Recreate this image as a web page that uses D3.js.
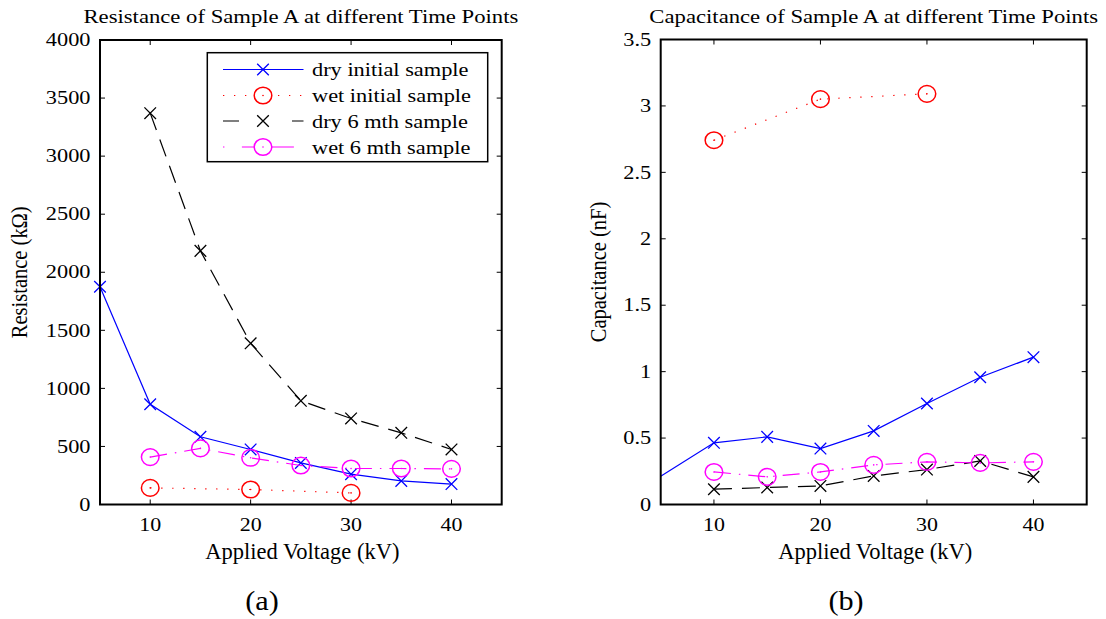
<!DOCTYPE html>
<html><head><meta charset="utf-8">
<script src="https://cdn.jsdelivr.net/npm/d3@7"></script>
<style>body{margin:0;background:#fff}svg{display:block}</style>
</head><body><svg id="c" width="1106" height="619" font-family="'Liberation Serif', 'Times New Roman', Times, serif"></svg>
<script>
// ---- data ----
const voltages = [5, 10, 15, 20, 25, 30, 35, 40];
const wetVoltages = [10, 20, 30];
const v6 = [10, 15, 20, 25, 30, 35, 40];

const resDryInitial = [1875, 863, 583, 474, 358, 261, 203, 176];
const resWetInitial = [143, 129, 100];
const resDry6 = [3370, 2184, 1388, 893, 741, 617, 474];
const resWet6 = [408, 483, 402, 336, 310, 310, 307];

const capDryInitial = [0.213, 0.464, 0.509, 0.421, 0.554, 0.760, 0.958, 1.109];
const capWetInitial = [2.742, 3.051, 3.091];
const capDry6 = [0.115, 0.128, 0.140, 0.215, 0.263, 0.328, 0.208];
const capWet6 = [0.245, 0.208, 0.245, 0.298, 0.321, 0.313, 0.321];

const seriesNames = ["dry initial sample", "wet initial sample", "dry 6 mth sample", "wet 6 mth sample"];
const xTicks = [10, 20, 30, 40];
const resTicks = [0, 500, 1000, 1500, 2000, 2500, 3000, 3500, 4000];
const capTicks = [0, 0.5, 1, 1.5, 2, 2.5, 3, 3.5];
const capTickLabels = ["0", "0.5", "1", "1.5", "2", "2.5", "3", "3.5"];

// ---- styles ----
const styles = [
  {color: "#0000ff", dash: null, legendDash: null, marker: "x"},
  {color: "#ff0000", dash: "1.3,9.7", legendDash: "1.3,9.7", marker: "o"},
  {color: "#000000", dash: "18,10", legendDash: "16,53,12", marker: "x"},
  {color: "#ff00ff", dash: "17,8,1.5,8", legendDash: "1.4,17.5,52,20", marker: "o"}
];

const svg = d3.select("#c");

// text with horizontal stretch (reference glyphs are wider than normal)
function stext(g, x, y, str, size, sx, anchor, rot) {
  const t = g.append("text")
    .attr("transform", `translate(${x},${y}) scale(${sx},1)` + (rot ? ` rotate(${rot})` : ""))
    .attr("font-size", size).attr("fill", "#000")
    .attr("text-anchor", anchor || "start").text(str);
  return t;
}

function xPath(cx, cy) {
  const s = 5.8;
  return `M${cx-s},${cy-s}L${cx+s},${cy+s}M${cx-s},${cy+s}L${cx+s},${cy-s}`;
}

function drawPanel(opt) {
  const g = svg.append("g");
  const x = d3.scaleLinear().domain([5, 45]).range([opt.x0, opt.x1]);
  const y = d3.scaleLinear().domain(opt.yDomain).range([opt.y1, opt.y0]);

  const tk = 5;
  xTicks.forEach(t => {
    g.append("line").attr("x1", x(t)).attr("x2", x(t)).attr("y1", opt.y1).attr("y2", opt.y1 - tk).attr("stroke", "#000").attr("stroke-width", 1);
    g.append("line").attr("x1", x(t)).attr("x2", x(t)).attr("y1", opt.y0).attr("y2", opt.y0 + tk).attr("stroke", "#000").attr("stroke-width", 1);
    stext(g, x(t), 531, String(t), 18.3, 1.2, "middle");
  });
  opt.yTicks.forEach((t, i) => {
    g.append("line").attr("x1", opt.x0).attr("x2", opt.x0 + tk).attr("y1", y(t)).attr("y2", y(t)).attr("stroke", "#000").attr("stroke-width", 1);
    g.append("line").attr("x1", opt.x1).attr("x2", opt.x1 - tk).attr("y1", y(t)).attr("y2", y(t)).attr("stroke", "#000").attr("stroke-width", 1);
    stext(g, opt.x0 - 9.5, y(t) + 6.2, opt.yTickLabels[i], 18.3, 1.22, "end");
  });

  opt.series.forEach((s, i) => {
    const st = styles[i];
    const pts = s.xs.map((xv, j) => [x(xv), y(s.ys[j])]);
    const p = g.append("path").attr("d", d3.line()(pts)).attr("fill", "none").attr("stroke", st.color).attr("stroke-width", 1.2);
    if (st.dash) p.attr("stroke-dasharray", st.dash);
    pts.forEach((pt, j) => {
      if (s.skipMarker && s.skipMarker.includes(j)) return;
      if (st.marker === "x") {
        g.append("path").attr("d", xPath(pt[0], pt[1])).attr("stroke", st.color).attr("stroke-width", 1.3).attr("fill", "none");
      } else {
        g.append("ellipse").attr("cx", pt[0]).attr("cy", pt[1]).attr("rx", 8.8).attr("ry", 8.3).attr("stroke", st.color).attr("stroke-width", 1.5).attr("fill", "none");
        g.append("circle").attr("cx", pt[0]).attr("cy", pt[1]).attr("r", 0.8).attr("fill", st.color);
      }
    });
  });

  g.append("rect").attr("x", opt.x0).attr("y", opt.y0).attr("width", opt.x1 - opt.x0).attr("height", opt.y1 - opt.y0)
    .attr("fill", "none").attr("stroke", "#000").attr("stroke-width", 2);

  const cx = (opt.x0 + opt.x1) / 2;
  stext(g, cx, 23.3, opt.title, 18.6, 1.22, "middle");
  stext(g, cx + 1.5, 559, "Applied Voltage (kV)", 22.5, 1.0, "middle");
  stext(g, opt.ylabX, (opt.y0 + opt.y1) / 2, opt.ylabel, 20.5, 1.1, "middle", -90);
  stext(g, opt.capX, 610, opt.caption, 27, 1.12, "middle");
  return {g, x, y};
}

drawPanel({
  x0: 100, x1: 501.7, y0: 40, y1: 504.5,
  yDomain: [0, 4000], yTicks: resTicks, yTickLabels: resTicks.map(String),
  title: "Resistance of Sample A at different Time Points",
  ylabel: "Resistance (kΩ)", ylabX: 26.5, caption: "(a)", capX: 262,
  series: [
    {xs: voltages, ys: resDryInitial},
    {xs: wetVoltages, ys: resWetInitial},
    {xs: v6, ys: resDry6},
    {xs: v6, ys: resWet6}
  ]
});

drawPanel({
  x0: 660.7, x1: 1086.7, y0: 39.5, y1: 504.5,
  yDomain: [0, 3.5], yTicks: capTicks, yTickLabels: capTickLabels,
  title: "Capacitance of Sample A at different Time Points",
  ylabel: "Capacitance (nF)", ylabX: 606, caption: "(b)", capX: 846,
  series: [
    {xs: voltages, ys: capDryInitial, skipMarker: [0]},
    {xs: wetVoltages, ys: capWetInitial},
    {xs: v6, ys: capDry6},
    {xs: v6, ys: capWet6}
  ]
});

// legend (left panel)
const lg = svg.append("g");
lg.append("rect").attr("x", 207.3).attr("y", 52.7).attr("width", 280.4).attr("height", 109).attr("fill", "#fff").attr("stroke", "#000").attr("stroke-width", 1.5);
const rowY = [69.5, 95.5, 121, 147];
seriesNames.forEach((name, i) => {
  const st = styles[i];
  const yy = rowY[i];
  const l = lg.append("line").attr("x1", 223).attr("x2", 303.5).attr("y1", yy).attr("y2", yy).attr("stroke", st.color).attr("stroke-width", 1.2);
  if (st.legendDash) l.attr("stroke-dasharray", st.legendDash);
  if (st.marker === "x") {
    lg.append("path").attr("d", xPath(263, yy)).attr("stroke", st.color).attr("stroke-width", 1.3).attr("fill", "none");
  } else {
    lg.append("ellipse").attr("cx", 263).attr("cy", yy).attr("rx", 8.8).attr("ry", 8.3).attr("stroke", st.color).attr("stroke-width", 1.5).attr("fill", "#fff");
    lg.append("circle").attr("cx", 263).attr("cy", yy).attr("r", 0.8).attr("fill", st.color);
  }
  stext(lg, 312, yy + 6.5, name, 19.8, 1.13, "start");
});
</script></body></html>
